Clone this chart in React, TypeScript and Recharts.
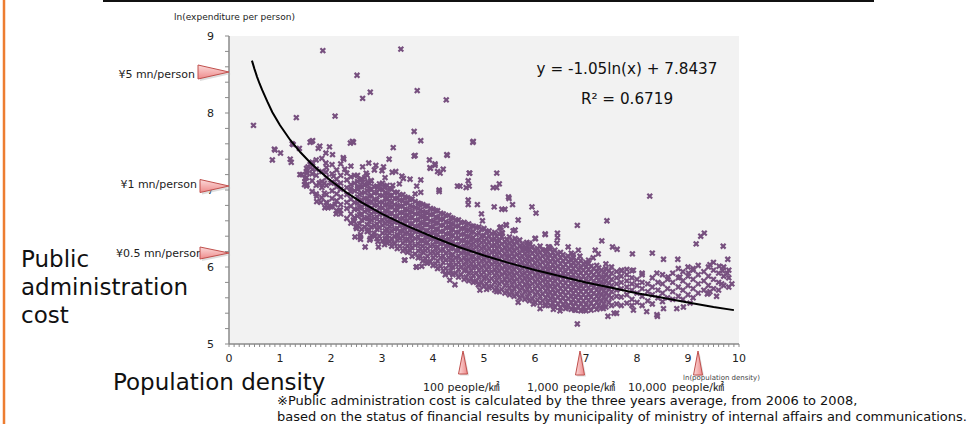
import React from 'react';
import { ScatterChart, Scatter, XAxis, YAxis, CartesianGrid } from 'recharts';

// ---- data ----
const xMajorTicks = [0, 1, 2, 3, 4, 5, 6, 7, 8, 9, 10];
const yMajorTicks = [5, 6, 7, 8, 9];

// isolated municipalities (ln density, ln expenditure)
const outlierPoints: [number, number][] = [
  [1.84, 8.81], [3.37, 8.83], [2.51, 8.49], [2.77, 8.27], [2.62, 8.19], [3.69, 8.29], [4.26, 8.17],
  [1.32, 7.94], [2.08, 7.96], [0.48, 7.84], [3.63, 7.76], [3.76, 7.64], [4.78, 7.62], [1.64, 7.64],
  [1.59, 7.62], [2.38, 7.61], [2.44, 7.62], [3.22, 7.55], [0.89, 7.53], [1.01, 7.48], [0.85, 7.39],
  [1.2, 7.4], [1.22, 7.36], [1.24, 7.6], [1.38, 7.54], [1.75, 7.54], [1.97, 7.56], [1.9, 7.48],
  [2.03, 7.46], [2.25, 7.4], [1.71, 7.39], [1.9, 7.35], [2.27, 7.27], [3.14, 7.4], [3.63, 7.44],
  [4.28, 7.45], [3.93, 7.39], [4.79, 7.63], [3.65, 7.45], [4.27, 7.46], [8.25, 6.92], [7.41, 6.6],
  [6.83, 6.54], [9.25, 6.4], [9.32, 6.44], [9.16, 6.3], [9.69, 6.27], [9.78, 6.1], [1.26, 7.59],
  [1.62, 7.63], [1.78, 7.57], [2.42, 7.63], [2.24, 7.42], [0.9, 7.52],
];

const upperEdgePoints: [number, number][] = [
  [2.74, 7.35], [2.62, 7.3], [2.88, 7.32], [3.03, 7.3], [2.69, 7.22], [2.85, 7.26], [3.0, 7.25],
  [1.59, 7.33], [1.64, 7.35], [1.55, 7.3], [1.64, 7.27], [1.53, 7.22], [1.39, 7.2], [1.49, 7.15],
  [1.48, 7.07], [1.53, 7.07], [1.9, 7.23], [2.05, 7.18], [1.77, 7.09], [1.87, 7.09], [2.0, 7.09],
  [2.13, 7.07], [3.2, 7.23], [3.27, 7.24], [3.06, 7.16], [3.21, 7.06], [3.34, 7.08], [2.78, 7.12],
  [2.72, 7.1], [2.62, 7.1], [2.52, 7.03], [2.39, 7.02], [2.92, 7.03], [3.05, 7.03],
  [3.95, 7.28], [4.04, 7.32], [4.09, 7.24], [4.14, 7.22], [4.2, 7.27], [4.71, 7.22], [4.69, 7.12],
  [4.71, 7.05], [4.65, 7.03], [5.25, 7.22], [5.3, 7.08], [5.18, 7.03], [5.25, 7.03], [3.39, 7.18],
  [3.42, 7.15], [3.55, 7.14], [3.76, 7.13], [3.68, 7.05], [4.48, 7.05], [4.12, 7.0], [4.04, 7.34],
  [3.94, 7.29], [4.72, 7.22], [4.53, 7.05], [1.43, 7.2], [1.49, 7.11], [1.52, 7.24], [1.78, 7.09],
  [3.65, 6.95], [3.76, 6.97], [4.12, 6.98], [4.69, 6.87], [4.69, 6.81], [4.87, 6.81], [4.95, 6.69],
  [5.2, 6.78], [5.35, 6.75], [5.41, 6.75], [5.48, 6.91], [5.56, 6.81], [5.67, 6.61], [5.94, 6.78],
  [6.02, 6.7], [6.2, 6.43], [6.44, 6.44], [6.44, 6.38], [6.43, 6.31], [6.39, 6.22], [6.26, 6.26],
  [5.43, 6.55], [5.31, 6.51], [5.61, 6.48], [5.35, 6.45], [6.0, 6.37], [5.84, 6.32], [5.49, 6.89],
  [4.97, 6.6], [5.33, 6.52], [5.44, 6.54], [5.36, 6.44], [5.57, 6.47], [5.61, 6.37], [6.2, 6.42],
  [6.01, 6.37], [7.31, 6.34], [7.52, 6.26], [7.61, 6.23], [7.91, 6.17], [8.3, 6.18], [8.52, 6.1],
  [8.8, 6.1], [9.43, 6.03], [9.61, 6.01], [9.77, 5.92], [9.68, 5.95], [9.1, 5.98], [9.01, 5.92],
  [8.61, 5.87], [8.84, 5.87], [7.93, 5.96], [8.1, 5.92], [8.39, 5.92], [7.8, 5.97], [7.7, 5.95],
  [7.05, 6.09], [7.14, 6.12], [7.24, 6.17], [7.18, 6.22], [6.85, 6.22], [6.75, 6.16], [6.88, 6.14],
  [6.65, 6.26], [6.28, 6.26], [6.2, 6.22], [5.9, 6.29], [5.87, 6.22], [6.0, 6.22], [5.77, 6.24],
  [9.86, 5.78], [9.66, 5.78],
];

const lowerEdgePoints: [number, number][] = [
  [1.72, 6.92], [1.87, 6.96], [1.8, 6.84], [1.94, 6.77], [1.99, 6.78], [2.1, 6.69], [2.16, 6.73],
  [2.08, 6.81], [2.45, 6.59], [2.49, 6.52], [2.58, 6.42], [2.47, 6.39], [2.58, 6.36], [2.72, 6.47],
  [2.77, 6.37], [2.86, 6.4], [2.92, 6.33], [3.05, 6.29], [3.08, 6.35], [3.24, 6.31], [3.31, 6.4],
  [1.88, 6.77], [1.72, 6.85], [1.92, 6.83], [2.18, 6.74], [2.44, 6.61], [2.5, 6.5], [2.57, 6.39],
  [2.76, 6.35], [2.67, 6.26], [2.93, 6.26], [3.09, 6.35], [3.45, 6.09], [3.68, 6.0], [3.88, 6.05],
  [3.44, 6.09], [3.67, 6.0], [3.78, 6.01], [4.43, 5.77], [4.24, 5.9], [4.33, 5.83], [4.92, 5.7],
  [5.05, 5.71], [5.25, 5.68], [4.89, 5.77], [5.67, 5.54], [5.97, 5.52], [6.1, 5.46], [6.2, 5.5],
  [6.36, 5.45], [6.49, 5.43], [6.62, 5.48], [6.78, 5.44], [6.95, 5.44], [7.34, 5.46], [7.6, 5.4],
  [7.93, 5.44], [8.19, 5.42], [8.52, 5.46], [8.78, 5.46], [8.91, 5.48], [9.04, 5.53], [9.43, 5.68],
  [9.56, 5.62], [9.38, 5.65], [6.83, 5.26], [8.4, 5.36], [7.43, 5.36], [7.55, 5.4], [8.39, 5.38],
];

// dense body of the cloud: [ln density, ln expenditure values...]
const coreColumns: number[][] = [
  [1.52, 7.05, 7.16, 7.28], [1.63, 6.98, 7.12, 7.21, 7.36], [1.71, 6.95, 7.06, 7.19, 7.27],
  [1.82, 6.9, 7.03, 7.11, 7.24, 7.41], [1.91, 6.84, 6.94, 7.06, 7.16, 7.29],
  [2.02, 6.79, 6.89, 6.99, 7.1, 7.21, 7.33], [2.11, 6.73, 6.86, 6.95, 7.04, 7.14, 7.26],
  [2.19, 6.69, 6.81, 6.91, 7.01, 7.09, 7.19, 7.34], [2.31, 6.63, 6.76, 6.84, 6.94, 7.03, 7.13, 7.22],
  [2.39, 6.57, 6.69, 6.79, 6.88, 6.98, 7.07, 7.17, 7.31], [2.52, 6.54, 6.66, 6.75, 6.83, 6.91, 7.01, 7.11, 7.19],
  [2.6, 6.49, 6.61, 6.69, 6.78, 6.87, 6.96, 7.04, 7.14], [2.71, 6.46, 6.55, 6.64, 6.74, 6.82, 6.89, 6.99, 7.07, 7.19],
  [2.79, 6.41, 6.52, 6.61, 6.69, 6.76, 6.85, 6.93, 7.01, 7.12], [2.9, 6.37, 6.49, 6.56, 6.65, 6.72, 6.81, 6.87, 6.97, 7.05],
  [3.01, 6.34, 6.44, 6.54, 6.61, 6.7, 6.77, 6.84, 6.93, 7.01, 7.09],
  [3.1, 6.31, 6.41, 6.49, 6.59, 6.66, 6.72, 6.81, 6.88, 6.95, 7.06],
  [3.19, 6.27, 6.37, 6.47, 6.55, 6.61, 6.7, 6.78, 6.84, 6.93, 7.01],
  [3.3, 6.24, 6.35, 6.42, 6.5, 6.59, 6.66, 6.74, 6.8, 6.89, 6.97],
  [3.41, 6.21, 6.31, 6.4, 6.47, 6.54, 6.63, 6.7, 6.79, 6.86, 6.94],
  [3.5, 6.19, 6.27, 6.36, 6.45, 6.52, 6.6, 6.67, 6.74, 6.83, 6.9],
  [3.59, 6.14, 6.25, 6.34, 6.41, 6.48, 6.56, 6.64, 6.71, 6.78, 6.88],
  [3.71, 6.12, 6.21, 6.3, 6.39, 6.46, 6.53, 6.61, 6.69, 6.76, 6.83],
  [3.8, 6.08, 6.19, 6.27, 6.34, 6.43, 6.51, 6.57, 6.65, 6.72, 6.81],
  [3.89, 6.05, 6.14, 6.24, 6.32, 6.39, 6.47, 6.55, 6.63, 6.7, 6.79],
  [4.0, 6.02, 6.12, 6.2, 6.29, 6.37, 6.45, 6.52, 6.59, 6.68, 6.75],
  [4.09, 5.98, 6.08, 6.18, 6.26, 6.33, 6.42, 6.49, 6.57, 6.64, 6.73],
  [4.2, 5.95, 6.06, 6.14, 6.23, 6.31, 6.38, 6.46, 6.54, 6.62, 6.69],
  [4.31, 5.92, 6.02, 6.12, 6.21, 6.28, 6.36, 6.43, 6.51, 6.58, 6.67],
  [4.39, 5.9, 6.0, 6.09, 6.16, 6.25, 6.33, 6.41, 6.49, 6.55, 6.63],
  [4.5, 5.87, 5.97, 6.06, 6.14, 6.22, 6.29, 6.38, 6.45, 6.53, 6.61],
  [4.61, 5.84, 5.95, 6.03, 6.12, 6.2, 6.27, 6.35, 6.43, 6.5, 6.58],
  [4.7, 5.82, 5.92, 6.01, 6.09, 6.17, 6.25, 6.32, 6.4, 6.48, 6.56],
  [4.79, 5.8, 5.89, 5.99, 6.07, 6.14, 6.23, 6.31, 6.38, 6.46, 6.53],
  [4.9, 5.77, 5.87, 5.96, 6.04, 6.12, 6.2, 6.28, 6.35, 6.44, 6.52],
  [5.0, 5.75, 5.85, 5.93, 6.02, 6.1, 6.18, 6.26, 6.34, 6.41, 6.5],
  [5.1, 5.73, 5.82, 5.92, 6.0, 6.08, 6.15, 6.24, 6.32, 6.4, 6.47],
  [5.21, 5.7, 5.8, 5.89, 5.97, 6.06, 6.13, 6.21, 6.29, 6.37, 6.45],
  [5.3, 5.68, 5.78, 5.87, 5.95, 6.03, 6.11, 6.19, 6.27, 6.34, 6.43],
  [5.41, 5.66, 5.76, 5.84, 5.93, 6.01, 6.09, 6.17, 6.25, 6.33],
  [5.5, 5.64, 5.73, 5.83, 5.91, 5.99, 6.07, 6.14, 6.23, 6.31, 6.39],
  [5.59, 5.62, 5.72, 5.81, 5.89, 5.97, 6.04, 6.13, 6.21, 6.29],
  [5.7, 5.6, 5.7, 5.78, 5.87, 5.95, 6.03, 6.11, 6.18, 6.27, 6.35],
  [5.8, 5.58, 5.68, 5.77, 5.85, 5.92, 6.01, 6.09, 6.17, 6.25],
  [5.89, 5.56, 5.66, 5.75, 5.83, 5.91, 5.99, 6.07, 6.14, 6.23, 6.31],
  [6.0, 5.54, 5.64, 5.72, 5.81, 5.89, 5.97, 6.05, 6.13, 6.21],
  [6.1, 5.53, 5.62, 5.71, 5.79, 5.87, 5.94, 6.03, 6.11, 6.19, 6.27],
  [6.21, 5.51, 5.6, 5.69, 5.77, 5.84, 5.93, 6.01, 6.09, 6.17],
  [6.3, 5.5, 5.59, 5.67, 5.75, 5.83, 5.91, 5.98, 6.07, 6.15, 6.24],
  [6.39, 5.48, 5.57, 5.66, 5.74, 5.82, 5.89, 5.98, 6.06, 6.14],
  [6.5, 5.47, 5.56, 5.64, 5.72, 5.8, 5.88, 5.96, 6.04, 6.12, 6.19],
  [6.6, 5.46, 5.55, 5.63, 5.71, 5.79, 5.87, 5.94, 6.03, 6.11],
  [6.71, 5.45, 5.54, 5.62, 5.7, 5.78, 5.86, 5.94, 6.02, 6.09, 6.18],
  [6.8, 5.44, 5.53, 5.61, 5.69, 5.77, 5.84, 5.93, 6.01, 6.08],
  [6.9, 5.43, 5.52, 5.6, 5.68, 5.75, 5.84, 5.92, 5.99, 6.08],
  [7.0, 5.43, 5.51, 5.6, 5.68, 5.76, 5.83, 5.92, 6.0, 6.06],
  [7.1, 5.44, 5.53, 5.61, 5.69, 5.77, 5.85, 5.93, 6.01],
  [7.21, 5.45, 5.54, 5.62, 5.7, 5.78, 5.86, 5.94, 6.02],
  [7.3, 5.47, 5.56, 5.64, 5.72, 5.8, 5.87, 5.96],
  [7.39, 5.48, 5.58, 5.66, 5.74, 5.82, 5.9, 5.98, 6.04],
];

// municipalities sitting between the columns above, in the solid part of the cloud
const interColumns: number[][] = [
  [2.46, 6.64, 6.75, 6.84, 6.99, 7.09, 7.19], [2.56, 6.56, 6.68, 6.77, 6.85, 6.94, 7.04, 7.13],
  [2.66, 6.52, 6.63, 6.72, 6.81, 6.89, 6.97, 7.06, 7.16], [2.75, 6.48, 6.59, 6.67, 6.76, 6.84, 6.92, 7.01, 7.09],
  [2.85, 6.44, 6.54, 6.63, 6.72, 6.8, 6.88, 6.96, 7.04], [2.95, 6.4, 6.51, 6.59, 6.68, 6.77, 6.84, 6.93, 7.01, 7.08],
  [3.06, 6.37, 6.47, 6.56, 6.65, 6.73, 6.8, 6.89, 6.96, 7.04], [3.15, 6.33, 6.44, 6.53, 6.61, 6.69, 6.78, 6.86, 6.93, 7.02],
  [3.25, 6.3, 6.4, 6.49, 6.58, 6.66, 6.74, 6.81, 6.89, 6.97], [3.35, 6.27, 6.37, 6.46, 6.54, 6.62, 6.71, 6.79, 6.87, 6.94],
  [3.45, 6.24, 6.34, 6.43, 6.52, 6.6, 6.67, 6.75, 6.83, 6.91], [3.55, 6.21, 6.31, 6.4, 6.48, 6.56, 6.64, 6.72, 6.8, 6.88],
  [3.65, 6.17, 6.28, 6.37, 6.46, 6.53, 6.61, 6.69, 6.77, 6.85], [3.75, 6.14, 6.24, 6.34, 6.42, 6.5, 6.58, 6.66, 6.74, 6.82],
  [3.85, 6.11, 6.21, 6.31, 6.39, 6.47, 6.55, 6.63, 6.71, 6.79], [3.95, 6.07, 6.18, 6.27, 6.36, 6.44, 6.52, 6.6, 6.68, 6.76],
  [4.05, 6.04, 6.15, 6.24, 6.33, 6.41, 6.49, 6.57, 6.65, 6.73], [4.15, 6.01, 6.12, 6.21, 6.3, 6.38, 6.46, 6.54, 6.62, 6.7],
  [4.25, 5.98, 6.09, 6.18, 6.27, 6.35, 6.43, 6.51, 6.59, 6.67], [4.35, 5.95, 6.06, 6.15, 6.24, 6.32, 6.4, 6.48, 6.56, 6.64],
  [4.45, 5.92, 6.03, 6.12, 6.21, 6.29, 6.37, 6.45, 6.53, 6.61], [4.55, 5.9, 6.0, 6.09, 6.18, 6.26, 6.34, 6.42, 6.5, 6.58],
  [4.65, 5.87, 5.97, 6.07, 6.15, 6.23, 6.31, 6.39, 6.47, 6.55], [4.75, 5.85, 5.95, 6.04, 6.13, 6.21, 6.29, 6.37, 6.45, 6.53],
  [4.85, 5.82, 5.92, 6.01, 6.1, 6.18, 6.26, 6.34, 6.42, 6.51], [4.95, 5.8, 5.9, 5.99, 6.08, 6.16, 6.24, 6.32, 6.4, 6.49],
  [5.05, 5.78, 5.87, 5.97, 6.05, 6.13, 6.21, 6.29, 6.37, 6.46], [5.15, 5.75, 5.85, 5.94, 6.03, 6.11, 6.19, 6.27, 6.35, 6.43],
  [5.25, 5.73, 5.83, 5.92, 6.0, 6.08, 6.16, 6.24, 6.32, 6.4], [5.35, 5.71, 5.81, 5.9, 5.98, 6.06, 6.14, 6.22, 6.3, 6.39],
  [5.45, 5.69, 5.79, 5.88, 5.96, 6.04, 6.12, 6.2, 6.28, 6.36], [5.55, 5.67, 5.77, 5.86, 5.94, 6.02, 6.1, 6.18, 6.26, 6.34],
  [5.65, 5.65, 5.75, 5.84, 5.92, 6.0, 6.08, 6.16, 6.24, 6.32], [5.75, 5.63, 5.73, 5.82, 5.9, 5.98, 6.06, 6.14, 6.22, 6.3],
  [5.85, 5.61, 5.71, 5.8, 5.88, 5.96, 6.04, 6.12, 6.2, 6.28], [5.95, 5.59, 5.69, 5.78, 5.86, 5.94, 6.02, 6.1, 6.18, 6.26],
  [6.05, 5.57, 5.67, 5.76, 5.84, 5.92, 6.0, 6.08, 6.16, 6.24], [6.15, 5.56, 5.65, 5.74, 5.82, 5.9, 5.98, 6.06, 6.14, 6.22],
  [6.25, 5.54, 5.64, 5.72, 5.8, 5.88, 5.96, 6.04, 6.12, 6.2], [6.35, 5.53, 5.62, 5.71, 5.79, 5.87, 5.95, 6.03, 6.11, 6.19],
  [6.45, 5.52, 5.61, 5.69, 5.77, 5.85, 5.93, 6.01, 6.09, 6.17], [6.55, 5.51, 5.6, 5.68, 5.76, 5.84, 5.92, 6.0, 6.08, 6.16],
  [6.65, 5.5, 5.59, 5.67, 5.75, 5.83, 5.91, 5.99, 6.07, 6.14], [6.75, 5.49, 5.58, 5.66, 5.74, 5.82, 5.9, 5.98, 6.06, 6.13],
  [6.85, 5.48, 5.57, 5.65, 5.73, 5.81, 5.89, 5.97, 6.05], [6.95, 5.48, 5.56, 5.64, 5.72, 5.8, 5.88, 5.96, 6.04],
  [7.05, 5.48, 5.57, 5.65, 5.73, 5.81, 5.89, 5.97, 6.05], [7.15, 5.49, 5.58, 5.66, 5.74, 5.82, 5.9, 5.98],
  [7.25, 5.5, 5.59, 5.67, 5.75, 5.83, 5.91, 5.99], [7.35, 5.52, 5.61, 5.69, 5.77, 5.85, 5.93],
  [7.45, 5.54, 5.63, 5.71, 5.79, 5.87, 5.95],
];

const tailColumns: number[][] = [
  [7.5, 5.5, 5.6, 5.68, 5.76, 5.84, 5.92, 6.0], [7.6, 5.52, 5.62, 5.7, 5.78, 5.86, 5.94],
  [7.69, 5.5, 5.61, 5.72, 5.8, 5.88, 5.96], [7.8, 5.53, 5.64, 5.74, 5.82, 5.9],
  [7.9, 5.5, 5.58, 5.7, 5.78, 5.86, 5.95], [8.0, 5.54, 5.66, 5.76, 5.84],
  [8.1, 5.5, 5.62, 5.72, 5.8, 5.9], [8.21, 5.56, 5.68, 5.78], [8.3, 5.52, 5.64, 5.74, 5.86],
  [8.41, 5.6, 5.7, 5.8], [8.5, 5.55, 5.66, 5.78, 5.9], [8.6, 5.6, 5.72, 5.84],
  [8.7, 5.58, 5.68, 5.8, 5.92], [8.81, 5.62, 5.74, 5.86, 5.98], [8.9, 5.58, 5.7, 5.82, 5.94],
  [9.0, 5.64, 5.76, 5.88, 6.0], [9.1, 5.6, 5.72, 5.84, 5.96], [9.2, 5.66, 5.78, 5.9, 6.02],
  [9.31, 5.7, 5.82, 5.94], [9.4, 5.66, 5.76, 5.88, 6.0], [9.5, 5.72, 5.84, 5.96, 6.06],
  [9.6, 5.7, 5.8, 5.92], [9.7, 5.76, 5.88, 6.0], [9.8, 5.74, 5.86, 5.96],
];

// logarithmic trend line as drawn (y = -1.05ln(x) + 7.8437)
const trendPoints: [number, number][] = [
  [0.45, 8.68], [0.5, 8.57], [0.55, 8.47], [0.6, 8.38], [0.65, 8.3], [0.75, 8.15], [0.85, 8.01],
  [1.0, 7.84], [1.2, 7.65], [1.4, 7.49], [1.6, 7.35], [1.8, 7.23], [2.0, 7.12], [2.3, 6.97],
  [2.6, 6.84], [3.0, 6.69], [3.5, 6.53], [4.0, 6.39], [4.5, 6.26], [5.0, 6.15], [5.5, 6.05],
  [6.0, 5.96], [6.5, 5.88], [7.0, 5.8], [7.5, 5.73], [8.0, 5.66], [8.5, 5.6], [9.0, 5.54],
  [9.5, 5.48], [9.9, 5.44],
];

type Pt = { x: number; y: number };
const toPts = (arr: [number, number][]): Pt[] => arr.map(([x, y]) => ({ x, y }));
const fromCols = (cols: number[][]): Pt[] =>
  cols.flatMap(([x, ...ys]) => ys.map((y) => ({ x, y })));

const scatterData: Pt[] = [
  ...fromCols(coreColumns),
  ...fromCols(interColumns),
  ...fromCols(tailColumns),
  ...toPts(upperEdgePoints),
  ...toPts(lowerEdgePoints),
  ...toPts(outlierPoints),
];
const trendData = toPts(trendPoints);

const xTicks = Array.from({ length: 101 }, (_, i) => i / 10);
const yTicks = Array.from({ length: 21 }, (_, i) => 5 + i / 5);
const isMajor = (v: number, majors: number[]) => majors.some((m) => Math.abs(m - v) < 1e-6);

const PURPLE = '#77507f';
const AXIS = '#8a8a8a';
const FONT = "'DejaVu Sans', 'Noto Sans CJK JP', sans-serif";

const Cross = (props: any) => {
  const { cx, cy } = props;
  if (cx == null || cy == null) return <g />;
  const s = 2.4;
  return (
    <path
      d={`M${cx - s},${cy - s}L${cx + s},${cy + s}M${cx - s},${cy + s}L${cx + s},${cy - s}`}
      stroke={PURPLE}
      strokeWidth={2.2}
      fill="none"
    />
  );
};

const NoShape = () => <g />;

const RightArrow = ({ x1, x2, cy, h }: { x1: number; x2: number; cy: number; h: number }) => (
  <g>
    <polygon points={`${x1 + 2},${cy - h / 2 + 2} ${x2 + 2},${cy + 2} ${x1 + 2},${cy + h / 2 + 2}`} fill="#bbb" opacity={0.5} />
    <polygon points={`${x1},${cy - h / 2} ${x2},${cy} ${x1},${cy + h / 2}`} fill="url(#pinkH)" stroke="#c0504d" strokeWidth={1} />
  </g>
);

const UpArrow = ({ cx, y1, y2, w }: { cx: number; y1: number; y2: number; w: number }) => (
  <g>
    <polygon points={`${cx - w / 2 + 1.5},${y2 + 1.5} ${cx + 1.5},${y1 + 1.5} ${cx + w / 2 + 1.5},${y2 + 1.5}`} fill="#bbb" opacity={0.5} />
    <polygon points={`${cx - w / 2},${y2} ${cx},${y1} ${cx + w / 2},${y2}`} fill="url(#pinkV)" stroke="#c0504d" strokeWidth={1} />
  </g>
);

export default function App() {
  return (
    <div style={{ position: 'absolute', left: 0, top: 0, width: 967, height: 424, background: '#fff', overflow: 'hidden' }}>
      <ScatterChart width={967} height={424} margin={{ top: 36, right: 228, bottom: 50, left: 189 }}>
        <CartesianGrid horizontal={false} vertical={false} fill="#f2f2f2" />
        <XAxis
          type="number"
          dataKey="x"
          domain={[0, 10]}
          ticks={xTicks}
          interval={0}
          allowDataOverflow
          height={30}
          tickSize={3}
          tickMargin={7}
          tickFormatter={(v: number) => (isMajor(v, xMajorTicks) ? String(Math.round(v)) : '')}
          axisLine={{ stroke: AXIS, strokeWidth: 1.5 }}
          tickLine={{ stroke: AXIS }}
          tick={{ fontSize: 11, fill: '#222', fontFamily: FONT }}
        />
        <YAxis
          type="number"
          dataKey="y"
          domain={[5, 9]}
          ticks={yTicks}
          interval={0}
          allowDataOverflow
          width={40}
          tickSize={4}
          tickMargin={11}
          tickFormatter={(v: number) => (isMajor(v, yMajorTicks) ? String(Math.round(v)) : '')}
          axisLine={{ stroke: AXIS, strokeWidth: 1.5 }}
          tickLine={{ stroke: AXIS }}
          tick={{ fontSize: 11, fill: '#222', fontFamily: FONT }}
        />
        <Scatter data={scatterData} shape={Cross} isAnimationActive={false} />
        <Scatter
          data={trendData}
          shape={NoShape}
          line={{ stroke: '#000', strokeWidth: 2 }}
          lineType="joint"
          isAnimationActive={false}
        />
      </ScatterChart>

      <svg width={967} height={424} style={{ position: 'absolute', left: 0, top: 0, pointerEvents: 'none' }}>
        <defs>
          <linearGradient id="pinkH" x1="0" y1="0" x2="0" y2="1">
            <stop offset="0" stopColor="#fbdada" />
            <stop offset="1" stopColor="#ee8a8a" />
          </linearGradient>
          <linearGradient id="pinkV" x1="0" y1="0" x2="1" y2="0">
            <stop offset="0" stopColor="#fbdada" />
            <stop offset="1" stopColor="#ee8a8a" />
          </linearGradient>
        </defs>

        <line x1={4} y1={0} x2={4} y2={424} stroke="#ed7d31" strokeWidth={2.5} />
        <line x1={103} y1={1} x2={874} y2={1} stroke="#111" strokeWidth={2} />

        <text x={174} y={20} fontSize={9} fontFamily={FONT} fill="#222">ln(expenditure per person)</text>

        <text x={195} y={78} fontSize={11} fontFamily={FONT} fill="#222" textAnchor="end">¥5 mn/person</text>
        <text x={197} y={188} fontSize={11} fontFamily={FONT} fill="#222" textAnchor="end">¥1 mn/person</text>
        <text x={203} y={257} fontSize={11} fontFamily={FONT} fill="#222" textAnchor="end">¥0.5 mn/person</text>
        <RightArrow x1={198} x2={229} cy={72} h={14} />
        <RightArrow x1={200} x2={229} cy={186} h={13} />
        <RightArrow x1={200} x2={229} cy={253} h={12} />

        <text x={21} y={267} fontSize={23} fontFamily={FONT} fill="#111">Public</text>
        <text x={21} y={295} fontSize={23} fontFamily={FONT} fill="#111">administration</text>
        <text x={21} y={323} fontSize={23} fontFamily={FONT} fill="#111">cost</text>
        <text x={113} y={390} fontSize={23} fontFamily={FONT} fill="#111">Population density</text>

        <UpArrow cx={463} y1={351} y2={374} w={9} />
        <UpArrow cx={580} y1={351} y2={375} w={9} />
        <UpArrow cx={698} y1={351} y2={375} w={9} />

        <text x={683} y={380} fontSize={7} fontFamily={FONT} fill="#444">ln(population density)</text>
        <text x={423} y={391} fontSize={11} fontFamily={FONT} fill="#222">100 people/㎢</text>
        <text x={527} y={391} fontSize={11} fontFamily={FONT} fill="#222">1,000</text>
        <text x={563} y={391} fontSize={11} fontFamily={FONT} fill="#222">people/㎢</text>
        <text x={628} y={391} fontSize={11} fontFamily={FONT} fill="#222">10,000</text>
        <text x={672} y={391} fontSize={11} fontFamily={FONT} fill="#222">people/㎢</text>

        <text x={277} y={405} fontSize={13} fontFamily={FONT} fill="#111">※Public administration cost is calculated by the three years average, from 2006 to 2008,</text>
        <text x={277} y={421} fontSize={13} fontFamily={FONT} fill="#111">based on the status of financial results by municipality of ministry of internal affairs and communications.</text>

        <text x={627} y={74} fontSize={15.2} fontFamily={FONT} fill="#111" textAnchor="middle">y = -1.05ln(x) + 7.8437</text>
        <text x={627} y={104} fontSize={15.2} fontFamily={FONT} fill="#111" textAnchor="middle">R² = 0.6719</text>
      </svg>
    </div>
  );
}
